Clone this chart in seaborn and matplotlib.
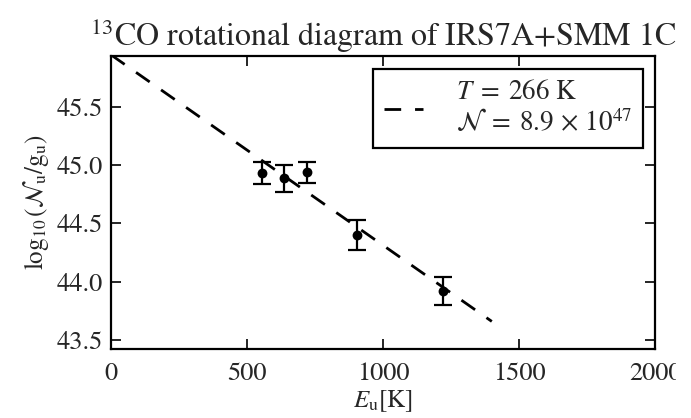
import matplotlib
matplotlib.use("Agg")
import matplotlib.pyplot as plt
import seaborn as sns
import numpy as np

# Data
E_u = [555, 635, 719, 905, 1222]            # upper level energy [K]
log_Ng = [44.93, 44.885, 44.94, 44.40, 43.92]
err = [0.095, 0.115, 0.09, 0.125, 0.12]

# Fitted rotational-diagram line (endpoints)
fit_E = [0, 1400]
fit_logN = [45.945, 43.659]
fit_label = ("$T \\;=\\; 266\\ \\mathrm{K}$\n"
             "$\\mathcal{N} \\;=\\; 8.9 \\,\\times\\, 10^{47}$")

xticks = [0, 500, 1000, 1500, 2000]
yticks = [43.5, 44.0, 44.5, 45.0, 45.5]

sns.set_style("ticks")
plt.rcParams["font.family"] = ["STIXGeneral", "DejaVu Serif"]
plt.rcParams["mathtext.fontset"] = "stix"

fig = plt.figure(figsize=(6.91, 4.18), dpi=100)
ax = fig.add_axes([111 / 691, 1 - 349.3 / 418, (655 - 111) / 691, (349.3 - 56) / 418])

sns.lineplot(x=fit_E, y=fit_logN, ax=ax, color="black", linewidth=2.0,
             label=fit_label)
ax.lines[-1].set_dashes([6, 5])

ax.errorbar(E_u, log_Ng, yerr=err, fmt="none", ecolor="black",
            elinewidth=1.6, capsize=6.5, capthick=1.6)
sns.scatterplot(x=E_u, y=log_Ng, ax=ax, color="black", s=50,
                edgecolor="black", linewidth=0, zorder=5)

ax.set_xlim(0, 2000)
ax.set_ylim(43.42, 45.935)
ax.set_xticks(xticks)
ax.set_yticks(yticks)
ax.set_yticklabels([f"{v:.1f}" for v in yticks])
ax.tick_params(direction="in", top=True, right=True, length=7, width=1.2,
               labelsize=19, color="black")
ax.tick_params(axis="x", pad=9)
ax.tick_params(axis="y", pad=6)
for s in ax.spines.values():
    s.set_linewidth(1.6)
    s.set_color("black")

ax.set_xlabel("$E_\\mathrm{u}[\\mathrm{K}]$", fontsize=18, labelpad=2)
ax.set_ylabel("$\\log_{10}(\\mathcal{N}_\\mathrm{u}/\\mathrm{g}_\\mathrm{u})$",
              fontsize=18, labelpad=4)
ax.set_title("$^{13}$CO rotational diagram of IRS7A+SMM 1C", fontsize=23, pad=7)

leg = ax.legend(loc="upper right", bbox_to_anchor=(0.978, 0.956),
                borderaxespad=0, fontsize=19.5, handlelength=1.45,
                handletextpad=1.2, borderpad=0.4,
                fancybox=False, framealpha=1, edgecolor="black")
leg.get_frame().set_linewidth(1.6)

# the reference image is cropped on the right edge
fig.patches.append(plt.Rectangle((676 / 691, 0), 15 / 691, 1,
                                 transform=fig.transFigure, color="white",
                                 zorder=10))

fig.savefig("out.png", dpi=100)
